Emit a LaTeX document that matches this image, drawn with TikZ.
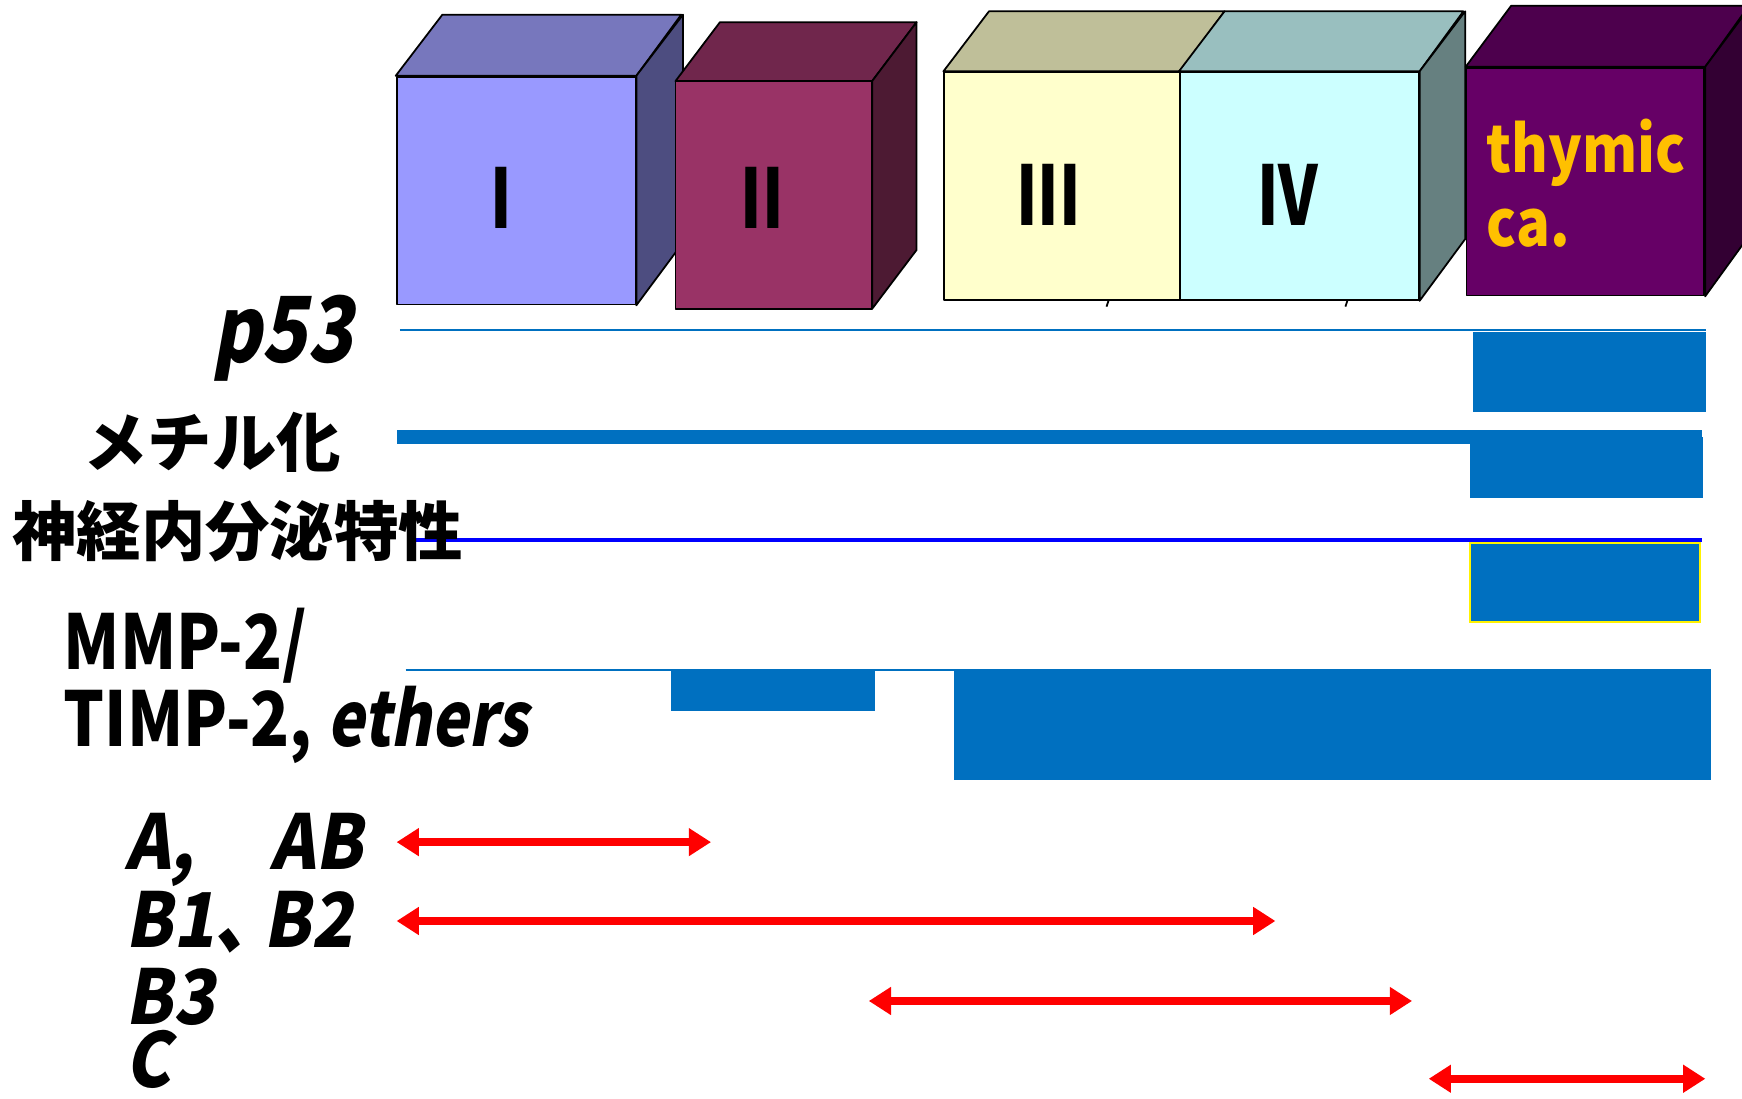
\documentclass[tikz,border=0pt]{standalone}
\usepackage{fontspec}
\usetikzlibrary{arrows.meta}
\newfontfamily\jpb{Noto Sans CJK JP Black}
\newfontfamily\jpbn{Noto Sans CJK JP Black}[FakeStretch=0.85]
\newfontfamily\jpnum{Noto Sans CJK JP Black}[FakeStretch=0.75]
\newfontfamily\jpgold{Noto Sans CJK JP Black}[FakeStretch=0.87]
\newfontfamily\jpbi{Noto Sans CJK JP Black}[FakeSlant=0.18,FakeStretch=0.82]
\newfontfamily\jpbib{Noto Sans CJK JP Black}[FakeSlant=0.18,FakeStretch=0.9]
\definecolor{fI}{HTML}{9999FF}
\definecolor{tI}{HTML}{7777BD}
\definecolor{sI}{HTML}{4D4D80}
\definecolor{fII}{HTML}{993366}
\definecolor{tII}{HTML}{70264C}
\definecolor{sII}{HTML}{4D1A33}
\definecolor{fIII}{HTML}{FFFFCC}
\definecolor{tIII}{HTML}{BFBF99}
\definecolor{fIV}{HTML}{CCFFFF}
\definecolor{tIV}{HTML}{99BFBF}
\definecolor{sIV}{HTML}{668080}
\definecolor{fT}{HTML}{660066}
\definecolor{tT}{HTML}{4D004D}
\definecolor{sT}{HTML}{330033}
\definecolor{barblue}{HTML}{0070C0}
\definecolor{pureblue}{HTML}{0000FF}
\definecolor{arrred}{HTML}{FF0000}
\definecolor{gold}{HTML}{FFC000}
\begin{document}
\begin{tikzpicture}[x=0.5pt,y=-0.5pt,
  edge/.style={draw=black, line width=0.8pt, line join=round},
  face/.style={edge, inner sep=0pt, minimum height=102.5pt},
  numeral/.style={inner sep=0pt, font=\jpnum\fontsize{37}{39}\selectfont},
  lbl/.style={inner sep=0pt, font=\jpbn\fontsize{34}{36}\selectfont},
  ilbl/.style={inner sep=0pt, anchor=base west, font=\jpbib\fontsize{34}{36}\selectfont},
  jlbl/.style={inner sep=0pt, font=\jpb\fontsize{29}{31}\selectfont},
  goldtxt/.style={inner sep=0pt, text=gold, anchor=base west, font=\jpgold\fontsize{29}{31}\selectfont},
  redarr/.style={draw=arrred, line width=3.5pt, {Triangle[length=10pt,width=12pt]}-{Triangle[length=10pt,width=12pt]}}
]
\useasboundingbox (0,0) rectangle (1568,989);
\clip (0,0) rectangle (1568,989);
\fill[white] (0,0) rectangle (1568,989);

% cube I
\node[face, fill=fI, minimum width=107.5pt] (c1) at (464.5,171.5) {};
\draw[edge, fill=tI] (c1.north west) -- ++(42,-55) -- ++(215,0) -- (c1.north east) -- cycle;
\draw[edge, fill=sI] (c1.north east) -- ++(42,-55) -- ++(0,205) -- (c1.south east) -- cycle;
\node[numeral] (n1) at (451,178) {I};

% cube II
\draw[edge, fill=tII] (608,73) -- ++(40,-53) -- ++(177,0) -- (785,73) -- cycle;
\draw[edge, fill=sII] (785,73) -- ++(40,-53) -- ++(0,205) -- (785,278) -- cycle;
\node[face, fill=fII, minimum width=88.5pt] (c2) at (696.5,175.5) {};
\node[numeral] (n2) at (686,178) {II};

% cubes III and IV
\node[face, fill=fIII, minimum width=106pt] (c3) at (956,167.5) {};
\node[face, fill=fIV, minimum width=107.5pt] (c4) at (1169.5,167.5) {};
\draw[edge, fill=tIII] (c3.north west) -- ++(41,-54) -- ++(212,0) -- (c3.north east) -- cycle;
\draw[edge, fill=tIV] (c4.north west) -- ++(41,-54) -- ++(215,0) -- (c4.north east) -- cycle;
\draw[edge, fill=sIV] (c4.north east) -- ++(41,-54) -- ++(0,205) -- (c4.south east) -- cycle;
\node[numeral] (n3) at (944,175) {III};
\node[numeral] (n4) at (1159,175) {IV};
\draw[edge] (998,270) -- (996,276);
\draw[edge] (1213,270) -- (1211,276);

% thymic ca. cube
\node[face, fill=fT, minimum width=107pt] (c5) at (1427,163.5) {};
\draw[edge, fill=tT] (c5.north west) -- ++(41,-55) -- ++(214,0) -- (c5.north east) -- cycle;
\draw[edge, fill=sT] (c5.north east) -- ++(41,-55) -- ++(0,205) -- (c5.south east) -- cycle;
\node[goldtxt] (th1) at (1338,155) {thymic};
\node[goldtxt] (th2) at (1338,222) {ca.};

% bars
\draw[barblue, line width=1pt] (360,297) -- (1536,297);
\fill[barblue] (1326,299) rectangle (1536,371);
\fill[barblue] (357,387) rectangle (1532,400);
\fill[barblue] (1323,393) rectangle (1533,448);
\draw[pureblue, line width=1.5pt] (372,486) -- (1532,486);
\draw[yellow, line width=0.8pt, fill=barblue] (1323,489) rectangle (1530,560);
\draw[barblue, line width=1pt] (365,603) -- (1540,603);
\fill[barblue] (604,604) rectangle (788,640);
\fill[barblue] (859,604) rectangle (1540,702);

% labels
\node[inner sep=0pt, anchor=base east, font=\jpbi\fontsize{41}{43}\selectfont] (tp53) at (318,326) {p53};
\node[jlbl] (tmet) at (191,398) {メチル化};
\node[jlbl] (tneu) at (214,478) {神経内分泌特性};
\node[lbl, anchor=base west] (tmmp) at (57,603) {MMP-2/};
\node[lbl, anchor=base west] (ttimp) at (57,672) {TIMP-2, {\jpbi ethers}};
\node[ilbl] (tA) at (113,783) {A,\quad AB};
\node[ilbl] (tB1) at (113,853) {B1、\hspace{-0.25em}B2};
\node[ilbl] (tB3) at (113,922) {B3};
\node[ilbl] (tC) at (113,979) {C};

% arrows
\coordinate (a1s) at (357,758); \coordinate (a1e) at (640,758);
\coordinate (a2s) at (357,829); \coordinate (a2e) at (1148,829);
\coordinate (a3s) at (782,901); \coordinate (a3e) at (1271,901);
\coordinate (a4s) at (1286,971); \coordinate (a4e) at (1535,971);
\draw[redarr] (a1s) -- (a1e);
\draw[redarr] (a2s) -- (a2e);
\draw[redarr] (a3s) -- (a3e);
\draw[redarr] (a4s) -- (a4e);
\end{tikzpicture}
\end{document}
